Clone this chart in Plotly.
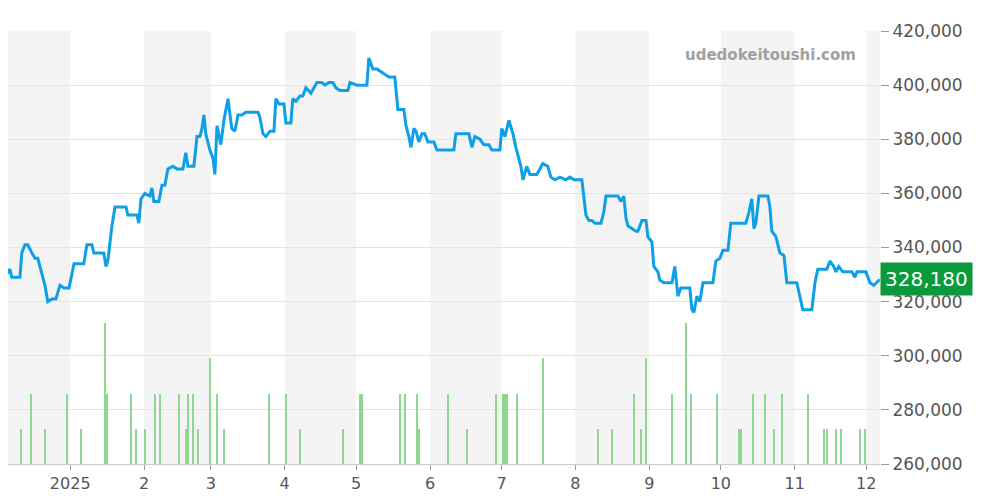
import plotly.graph_objects as go
import pandas as pd

start = pd.Timestamp("2024-12-02 12:00")
price_days = [0,2.1,4.2,5.0,8.4,9.2,10.5,11.7,13.4,14.7,15.9,17.6,18.9,20.1,21.8,23.5,25.2,26.9,29.0,31.1,35.2,36.5,38.6,39.4,43.6,44.5,45.3,47.0,48.3,52.9,53.7,57.5,58.3,59.2,60.8,62.9,63.8,64.6,66.7,68.0,69.2,70.5,72.6,74.3,76.8,78.0,78.9,81.4,82.7,83.9,84.8,85.6,86.4,88.1,89.4,90.2,91.1,92.7,94.0,95.7,97.3,98.6,99.9,101.5,103.2,108.3,109.1,110.4,111.6,113.3,115.0,115.8,117.1,119.2,120.0,122.1,122.9,124.2,125.9,127.1,128.4,130.5,131.8,133.0,135.1,136.4,138.0,139.7,141.0,142.7,146.0,146.9,149.8,154.0,154.8,156.5,158.2,159.9,161.5,163.2,165.7,167.0,169.5,170.4,171.6,172.5,173.7,174.6,175.8,177.1,178.3,179.6,182.1,183.4,190.5,191.3,196.8,198.1,199.3,201.4,203.1,205.2,206.4,209.8,210.6,211.9,213.6,215.3,216.5,218.6,219.5,221.1,222.4,225.3,226.6,227.8,229.9,231.2,232.9,235.0,237.5,239.2,240.9,244.2,245.9,247.1,248.4,249.7,252.2,253.4,254.3,259.3,260.6,261.8,262.7,263.5,265.2,266.9,267.7,269.4,271.1,271.9,273.6,274.4,276.1,276.9,278.6,282.0,283.2,284.5,285.7,289.5,290.4,291.2,292.5,293.7,295.0,299.2,300.4,302.1,303.4,305.5,306.7,313.0,314.3,315.5,316.4,317.2,318.5,322.3,323.1,323.9,325.6,327.3,329.0,330.2,334.4,335.7,336.9,340.7,342.0,343.2,347.0,348.3,349.9,350.8,352.0,353.7,357.5,358.8,359.6,363.4,365.1,366.7,369.2]
price_k = [330,329,332,329,329,338,341,341,338,336,336,330,326,320,321,321,326,325,325,334,334,341,341,338,338,333,335,348,355,355,352,352,349,358,360,359,362,357,357,363,363,369,370,369,369,375,370,370,381,381,384,389,382,376,373,367,385,378,387,395,384,383,389,389,390,390,388,382,381,383,383,395,393,393,386,386,395,394,396,396,399,397,399,401,401,400,401,401,399,398,398,401,400,400,410,406,406,405,404,403,403,391,391,385,381,377,384,383,379,382,382,379,379,376,376,382,382,377,381,380,378,378,376,376,384,381,387,382,377,370,365,370,367,367,369,371,370,366,365,366,365,366,365,365,352,350,350,349,349,353,359,359,357,359,351,348,347,346,346,350,350,344,342,333,331,328,327,327,333,322,325,325,317,316,322,320,327,327,335,336,339,339,349,349,353,358,347,349,359,359,355,346,344,338,337,327,327,322,317,317,327,332,332,335,333,331,333,331,331,329,331,331,327,326,328.18]
vol_days = [2,9,13,19,28,34,44,45,55,57,61,65,67,75,78,79,81,83,88,91,94,113,120,126,144,151,152,168,170,175,176,188,196,208,211,212,213,217,228,251,257,266,269,271,282,288,290,301,310,311,316,321,325,328,339,346,347,351,353,361,363]
vol_count = [1,1,2,1,2,1,4,2,2,1,1,2,2,2,1,2,2,1,3,2,1,2,2,1,1,2,2,2,2,2,1,2,1,2,2,2,2,2,3,1,1,2,1,3,2,4,2,2,1,1,2,2,1,2,2,1,1,1,1,1,1]
shaded_months = ["2024-12","2025-02","2025-04","2025-06","2025-08","2025-10","2025-12"]
tick_dates = ["2025-01-01"] + [f"2025-{m:02d}-01" for m in range(2, 13)]
tick_labels = ["2025"] + [str(m) for m in range(2, 13)]

px_dates = [start + pd.Timedelta(days=d) for d in price_days]
prices = [v * 1000 for v in price_k]
vdates = [start + pd.Timedelta(days=d) for d in vol_days]
xstart = start + pd.Timedelta(days=3.4)
xend = start + pd.Timedelta(days=369.3)

fig = go.Figure()
fig.add_trace(go.Bar(x=vdates, y=vol_count, yaxis="y2", marker_color="#8fd68f",
                     width=0.45 * 86400000, marker_line_width=0))
fig.add_trace(go.Scatter(x=px_dates, y=prices, mode="lines",
                         line=dict(color="#0ea0e6", width=3)))
shapes = []
for m in shaded_months:
    s = pd.Timestamp(m + "-01")
    e = min(s + pd.offsets.MonthBegin(1), xend)
    s = max(s, xstart)
    shapes.append(dict(type="rect", xref="x", yref="paper", x0=s, x1=e, y0=0, y1=1,
                       fillcolor="#f4f4f4", line_width=0, layer="below"))
fig.update_layout(
    width=992, height=492, margin=dict(l=0, r=120, t=23, b=36, autoexpand=False),
    plot_bgcolor="white", paper_bgcolor="white", showlegend=False, shapes=shapes,
    bargap=0,
    xaxis=dict(range=[xstart, xend], tickvals=tick_dates, ticktext=tick_labels,
               showgrid=False, ticks="outside", ticklen=5, tickcolor="#999", automargin=False,
               tickfont=dict(size=16, color="#555", family="DejaVu Sans"),
               showline=True, linecolor="#ccc"),
    yaxis=dict(range=[260000, 420000], side="right", dtick=20000, tickformat=",",
               gridcolor="#e4e4e4", ticks="outside", ticklen=8, tickcolor="#999", automargin=False,
               tickfont=dict(size=17, color="#555", family="DejaVu Sans"), zeroline=False),
    yaxis2=dict(range=[0, 12.3], overlaying="y", visible=False),
    annotations=[
        dict(text="<b>udedokeitoushi.com</b>", xref="paper", yref="paper", x=0.975, y=0.97,
             xanchor="right", yanchor="top", showarrow=False,
             font=dict(size=15, color="#a0a0a0", family="DejaVu Sans")),
        dict(text="328,180", xref="paper", yref="y", x=1.0, y=328180, xanchor="left",
             showarrow=False, bgcolor="#0a9a3c", borderpad=4,
             font=dict(size=20, color="white", family="DejaVu Sans")),
    ],
)
fig.write_html("out.html")
